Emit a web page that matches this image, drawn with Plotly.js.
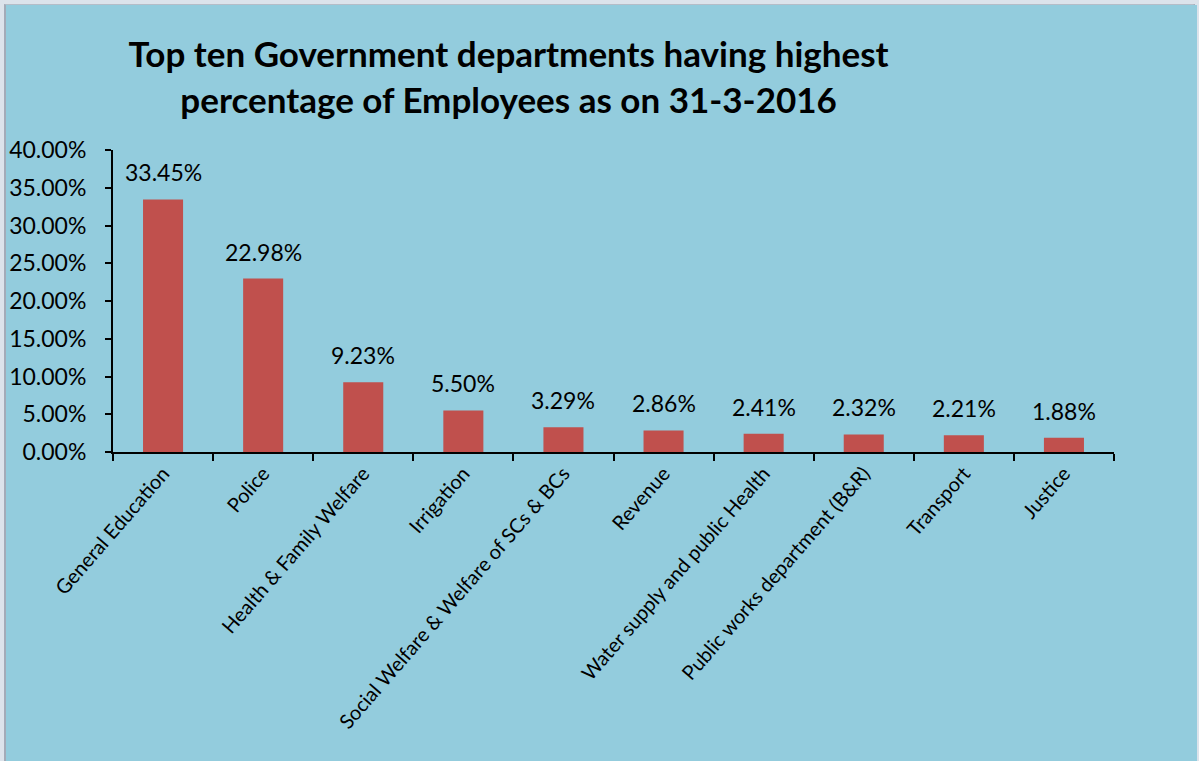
<!DOCTYPE html>
<html>
<head>
<meta charset="utf-8">
<script src="https://cdn.plot.ly/plotly-3.0.1.min.js"></script>
<style>
  html, body { margin: 0; padding: 0; background: #DCE3EB; width: 1199px; height: 761px; overflow: hidden; }
  #chart { position: absolute; left: 4px; top: 4px; width: 1191px; height: 757px;
           border-left: 2px solid #A3ABB8; border-top: 1px solid #B5BDC8; border-right: 2px solid #A3ABB8; box-sizing: border-box; }
</style>
</head>
<body>
<div id="chart"></div>
<script>
const categories = [
  "General Education",
  "Police",
  "Health & Family Welfare",
  "Irrigation",
  "Social Welfare & Welfare of SCs & BCs",
  "Revenue",
  "Water supply and public Health",
  "Public works department (B&R)",
  "Transport",
  "Justice"
];
const values = [0.3345, 0.2298, 0.0923, 0.0550, 0.0329, 0.0286, 0.0241, 0.0232, 0.0221, 0.0188];
const valueLabels = ["33.45%", "22.98%", "9.23%", "5.50%", "3.29%", "2.86%", "2.41%", "2.32%", "2.21%", "1.88%"];
const yTicks = [0, 0.05, 0.10, 0.15, 0.20, 0.25, 0.30, 0.35, 0.40];
const yTickLabels = ["0.00%", "5.00%", "10.00%", "15.00%", "20.00%", "25.00%", "30.00%", "35.00%", "40.00%"];
const titleText = "Top ten Government departments having highest<br>percentage of Employees as on 31-3-2016";

const bg = "#93CCDD";
const font = "Lato, 'Open Sans', sans-serif";

const trace = {
  type: "bar",
  x: categories,
  y: values,
  marker: { color: "#C0504D" },
  hoverinfo: "x+y"
};

const annotations = categories.map((c, i) => ({
  x: c, y: values[i], xref: "x", yref: "y",
  text: valueLabels[i], showarrow: false,
  yanchor: "bottom", yshift: 11,
  font: { family: font, size: 23, color: "#000" }
}));

const layout = {
  width: 1191, height: 757,
  paper_bgcolor: bg, plot_bgcolor: bg,
  margin: { l: 107, r: 83, t: 145, b: 310 },
  bargap: 0.6,
  showlegend: false,
  title: {
    text: titleText,
    font: { family: font, size: 35, color: "#000", weight: "bold" },
    x: 0.422, xref: "container", xanchor: "center",
    y: 0.918, yref: "container", yanchor: "top"
  },
  xaxis: {
    type: "category",
    range: [-0.5, 9.5],
    showline: true, linecolor: "#000", linewidth: 2,
    ticks: "outside", tickson: "boundaries", ticklen: 7, tickwidth: 2, tickcolor: "#000",
    tickangle: -49,
    tickfont: { family: font, size: 20, color: "#000" },
    showgrid: false, zeroline: false
  },
  yaxis: {
    range: [0, 0.4],
    tickvals: yTicks, ticktext: yTickLabels,
    showline: true, linecolor: "#000", linewidth: 2,
    ticks: "outside", ticklen: 6, tickwidth: 2, tickcolor: "#000",
    ticklabelstandoff: 14,
    tickfont: { family: font, size: 23, color: "#000" },
    showgrid: false, zeroline: false
  },
  annotations: annotations
};

Plotly.newPlot("chart", [trace], layout, { displayModeBar: false, staticPlot: true });
</script>
</body>
</html>
